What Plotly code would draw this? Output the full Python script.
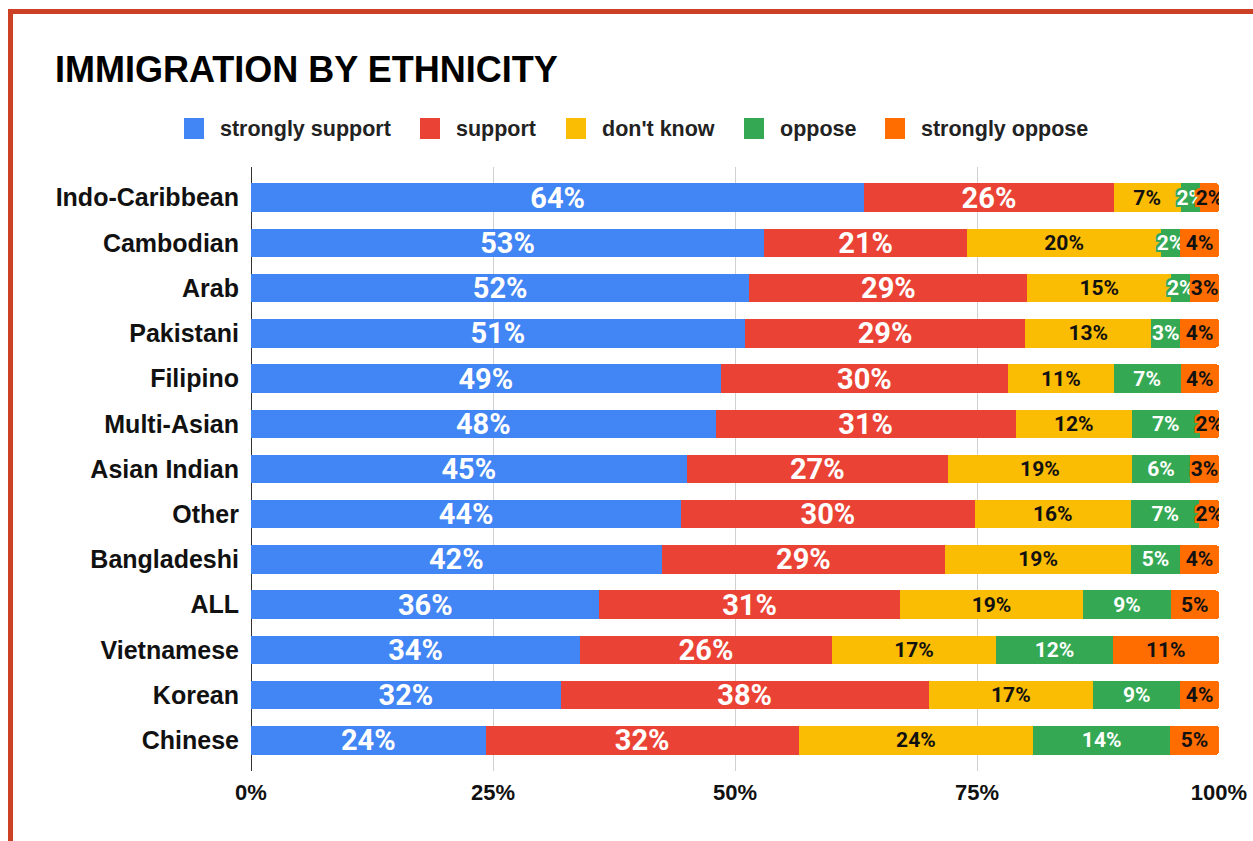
import plotly.graph_objects as go

# Survey responses by ethnic group (percent of respondents)
categories = ["Indo-Caribbean", "Cambodian", "Arab", "Pakistani", "Filipino",
              "Multi-Asian", "Asian Indian", "Other", "Bangladeshi", "ALL",
              "Vietnamese", "Korean", "Chinese"]
strongly_support = [64, 53, 52, 51, 49, 48, 45, 44, 42, 36, 34, 32, 24]
support = [26, 21, 29, 29, 30, 31, 27, 30, 29, 31, 26, 38, 32]
dont_know = [7, 20, 15, 13, 11, 12, 19, 16, 19, 19, 17, 17, 24]
oppose = [2, 2, 2, 3, 7, 7, 6, 7, 5, 9, 12, 9, 14]
strongly_oppose = [2, 4, 3, 4, 4, 2, 3, 2, 4, 5, 11, 4, 5]

series_names = ["strongly support", "support", "don't know", "oppose", "strongly oppose"]
series_values = [strongly_support, support, dont_know, oppose, strongly_oppose]
series_colors = ["#4285F4", "#EA4335", "#FBBC04", "#34A853", "#FF6D01"]
label_colors = ["#FFFFFF", "#FFFFFF", "#111111", "#FFFFFF", "#111111"]
label_sizes = [29, 29, 21, 21, 21]

x_ticks = [0, 25, 50, 75, 100]
x_tick_labels = ["0%", "25%", "50%", "75%", "100%"]

W, H = 1253, 841
ML, MR, MT, MB = 251, 34, 167, 70
PW, PH = W - ML - MR, H - MT - MB


def px(x):
    return (x - ML) / PW


def py(y):
    return (H - MB - y) / PH


def halo(color, d=2):
    offs = [(-d, -d), (d, -d), (-d, d), (d, d), (0, d), (0, -d), (d, 0), (-d, 0)]
    return ", ".join(f"{a}px {b}px 0 {color}" for a, b in offs)


fig = go.Figure()
for name, vals, col, tcol, tsize in zip(series_names, series_values, series_colors,
                                        label_colors, label_sizes):
    fig.add_trace(go.Bar(
        y=categories, x=vals, name=name, orientation="h",
        marker=dict(color=col, line=dict(width=0)),
        text=[f"{v}%" for v in vals],
        textposition="inside", insidetextanchor="middle",
        textangle=0, constraintext="none",
        textfont=dict(family="Roboto", size=tsize, color=tcol, weight="bold",
                      shadow=halo(col)),
        showlegend=False, hoverinfo="skip",
    ))

shapes = []
annotations = []

# outer frame
shapes.append(dict(type="rect", xref="paper", yref="paper",
                   x0=px(10.5), x1=px(1400), y0=py(11.5), y1=py(1000),
                   line=dict(color="#CC4125", width=5), fillcolor="rgba(0,0,0,0)",
                   layer="above"))

# title
annotations.append(dict(text="IMMIGRATION BY ETHNICITY", xref="paper", yref="paper",
                        x=px(53), y=py(70), xanchor="left", yanchor="middle",
                        showarrow=False,
                        font=dict(family="Liberation Sans, Arial", size=36,
                                  color="#000000", weight="bold")))

# legend row
legend_box_x = [184, 420, 566, 744, 885]
for bx, name, col in zip(legend_box_x, series_names, series_colors):
    shapes.append(dict(type="rect", xref="paper", yref="paper",
                       x0=px(bx), x1=px(bx + 20), y0=py(118), y1=py(139),
                       line=dict(width=0), fillcolor=col))
    annotations.append(dict(text=name, xref="paper", yref="paper",
                            x=px(bx + 34), y=py(128.5), xanchor="left", yanchor="middle",
                            showarrow=False,
                            font=dict(family="Liberation Sans, Arial", size=21.5,
                                      color="#222222", weight="bold")))

fig.update_layout(
    width=W, height=H,
    margin=dict(l=ML, r=MR, t=MT, b=MB, autoexpand=False),
    paper_bgcolor="#FFFFFF", plot_bgcolor="#FFFFFF",
    barmode="stack", barnorm="percent", bargap=0.37,
    barcornerradius=3,
    shapes=shapes, annotations=annotations,
    showlegend=False,
)

fig.update_xaxes(
    range=[0, 100], tickvals=x_ticks, ticktext=x_tick_labels,
    showgrid=True, gridcolor="#D0D0D0", gridwidth=1,
    zeroline=True, zerolinecolor="#333333", zerolinewidth=1,
    showline=False, ticks="", ticklabelstandoff=6,
    tickfont=dict(family="Liberation Sans, Arial", size=22, color="#111111", weight="bold"),
    fixedrange=True,
)
fig.update_yaxes(
    type="category", categoryorder="array", categoryarray=categories,
    range=[12.677, -0.677],
    showgrid=False, zeroline=False, showline=False, ticks="",
    ticklabelstandoff=11,
    tickfont=dict(family="Liberation Sans, Arial", size=25, color="#111111", weight="bold"),
    fixedrange=True,
)

fig.write_html("out.html", config={"displayModeBar": False})
